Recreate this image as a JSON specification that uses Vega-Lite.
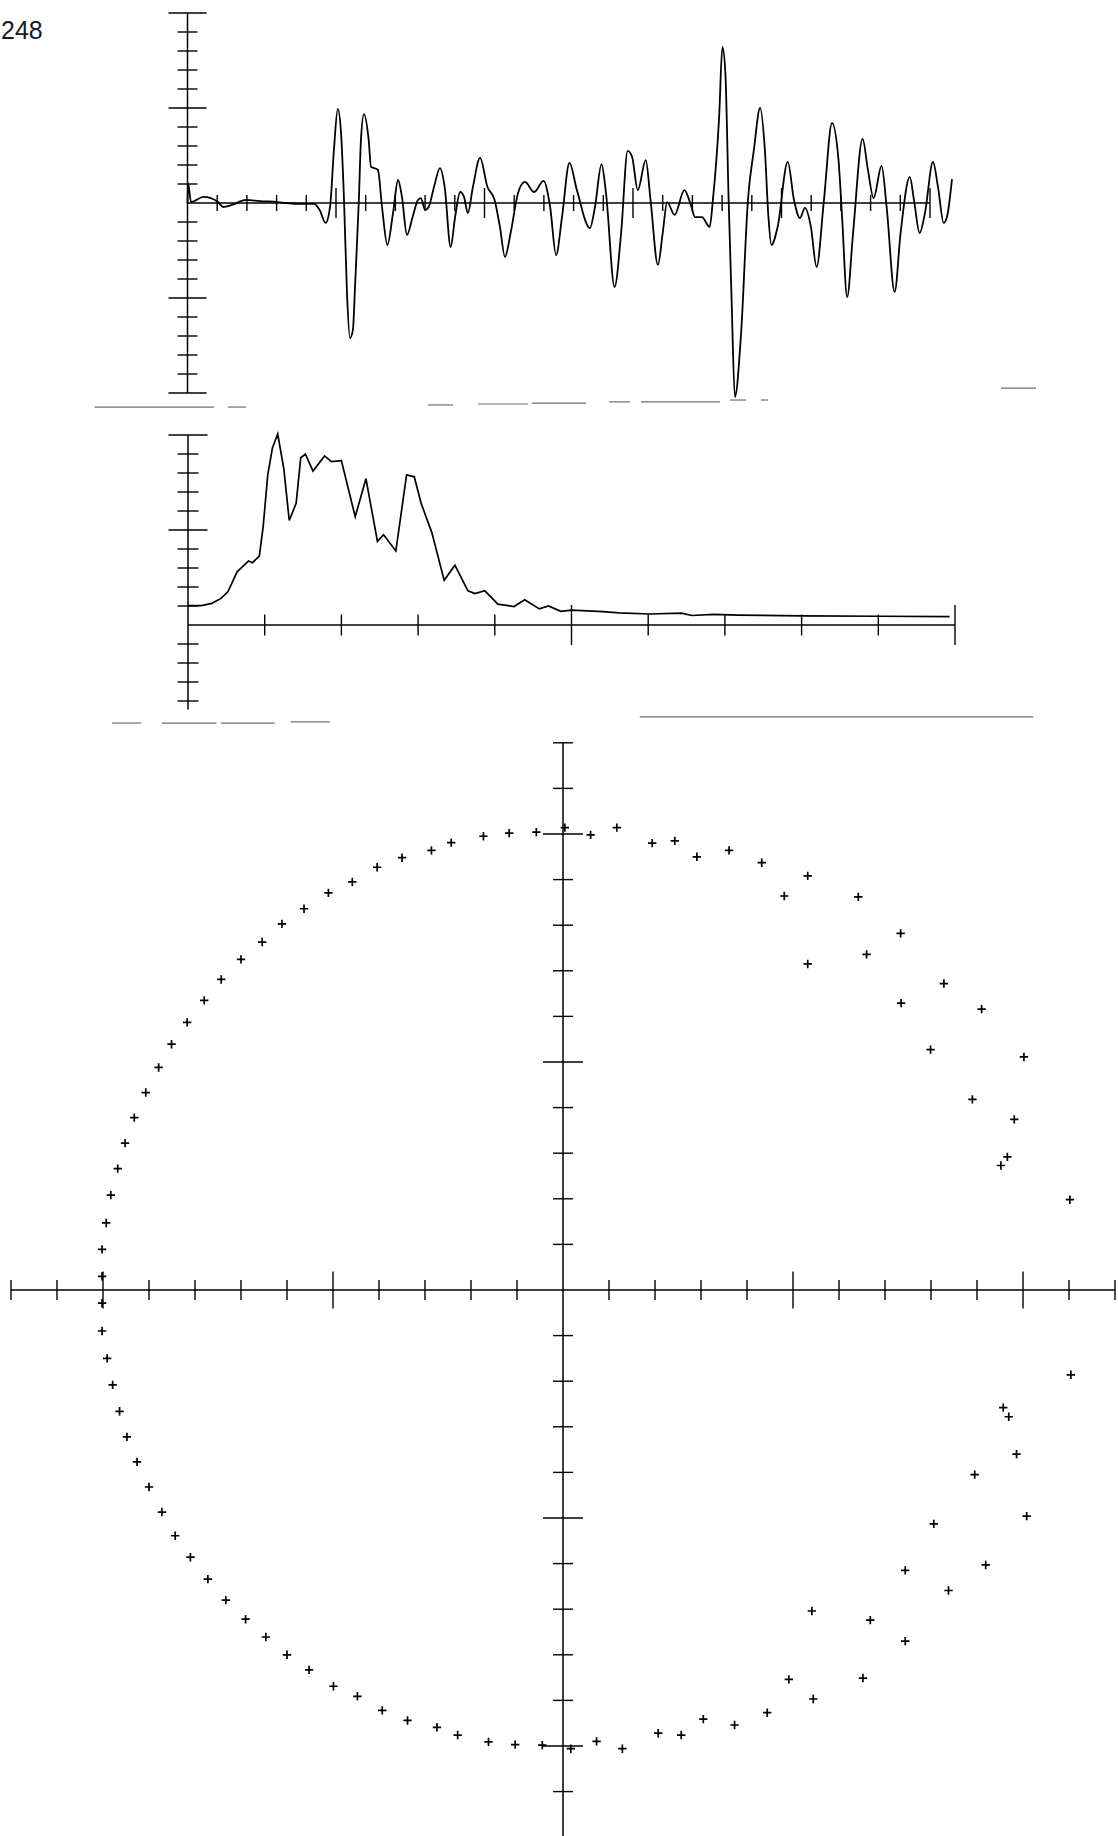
{
  "$schema": "https://vega.github.io/schema/vega-lite/v6.json",
  "background": "white",
  "padding": 0,
  "spacing": 0,
  "config": {"view": {"stroke": null}, "concat": {"spacing": 0}},
  "resolve": {"scale": {"x": "independent", "y": "independent"}},
  "datasets": {
    "topFrame": [
      {"x": 0, "x2": 0, "y": -10, "y2": 10},
      {"x": 0, "x2": 25, "y": 0, "y2": 0}
    ],
    "topYTicks": [
      {"v": -10}, {"v": -9}, {"v": -8}, {"v": -7}, {"v": -6}, {"v": -5}, {"v": -4}, {"v": -3}, {"v": -2}, {"v": -1},
      {"v": 1}, {"v": 2}, {"v": 3}, {"v": 4}, {"v": 5}, {"v": 6}, {"v": 7}, {"v": 8}, {"v": 9}, {"v": 10}
    ],
    "topXTicks": [
      {"v": 1}, {"v": 2}, {"v": 3}, {"v": 4}, {"v": 5}, {"v": 6}, {"v": 7}, {"v": 8}, {"v": 9}, {"v": 10},
      {"v": 11}, {"v": 12}, {"v": 13}, {"v": 14}, {"v": 15}, {"v": 16}, {"v": 17}, {"v": 18}, {"v": 19}, {"v": 20},
      {"v": 21}, {"v": 22}, {"v": 23}, {"v": 24}, {"v": 25}
    ],
    "topSeams": [
      {"x": -3.13, "x2": 0.89, "y": -10.74},
      {"x": 1.36, "x2": 1.97, "y": -10.74},
      {"x": 8.1, "x2": 8.94, "y": -10.63},
      {"x": 9.78, "x2": 11.46, "y": -10.58},
      {"x": 11.6, "x2": 13.42, "y": -10.53},
      {"x": 14.19, "x2": 14.9, "y": -10.47},
      {"x": 15.27, "x2": 17.93, "y": -10.47},
      {"x": 18.27, "x2": 18.81, "y": -10.37},
      {"x": 19.31, "x2": 19.55, "y": -10.37},
      {"x": 27.39, "x2": 28.57, "y": -9.74}
    ],
    "wave": [
      {"t": 0.0, "a": 0.0}, {"t": 0.02, "a": 1.05}, {"t": 0.12, "a": 0.05}, {"t": 0.54, "a": 0.32}, {"t": 1.03, "a": 0.05},
      {"t": 1.2, "a": -0.21}, {"t": 1.5, "a": -0.1}, {"t": 1.97, "a": 0.16}, {"t": 2.44, "a": 0.1}, {"t": 3.05, "a": 0.05},
      {"t": 3.32, "a": 0.0}, {"t": 3.89, "a": -0.05}, {"t": 4.26, "a": -0.05}, {"t": 4.45, "a": -0.37}, {"t": 4.65, "a": -1.05},
      {"t": 4.8, "a": -0.21}, {"t": 4.93, "a": 2.79}, {"t": 5.06, "a": 4.95}, {"t": 5.17, "a": 3.68}, {"t": 5.27, "a": 0.16},
      {"t": 5.37, "a": -4.74}, {"t": 5.47, "a": -7.11}, {"t": 5.57, "a": -6.68}, {"t": 5.64, "a": -4.42}, {"t": 5.77, "a": 0.16},
      {"t": 5.84, "a": 3.32}, {"t": 5.94, "a": 4.68}, {"t": 6.1, "a": 3.32}, {"t": 6.18, "a": 1.89}, {"t": 6.28, "a": 1.84},
      {"t": 6.41, "a": 1.74}, {"t": 6.55, "a": -0.21}, {"t": 6.73, "a": -2.21}, {"t": 6.92, "a": -0.53}, {"t": 7.09, "a": 1.21},
      {"t": 7.22, "a": 0.32}, {"t": 7.39, "a": -1.68}, {"t": 7.58, "a": -0.74}, {"t": 7.76, "a": 0.16}, {"t": 7.86, "a": 0.26},
      {"t": 8.0, "a": -0.37}, {"t": 8.12, "a": -0.21}, {"t": 8.3, "a": 0.84}, {"t": 8.5, "a": 1.84}, {"t": 8.66, "a": 0.84},
      {"t": 8.86, "a": -2.32}, {"t": 9.01, "a": -0.74}, {"t": 9.18, "a": 0.58}, {"t": 9.31, "a": 0.32}, {"t": 9.44, "a": -0.53},
      {"t": 9.61, "a": 0.84}, {"t": 9.85, "a": 2.37}, {"t": 10.1, "a": 0.84}, {"t": 10.34, "a": 0.16}, {"t": 10.52, "a": -1.26},
      {"t": 10.69, "a": -2.84}, {"t": 10.88, "a": -1.58}, {"t": 11.13, "a": 0.53}, {"t": 11.36, "a": 1.11}, {"t": 11.67, "a": 0.58},
      {"t": 11.99, "a": 1.16}, {"t": 12.21, "a": -0.21}, {"t": 12.41, "a": -2.74}, {"t": 12.61, "a": -0.74}, {"t": 12.86, "a": 2.11},
      {"t": 13.11, "a": 0.68}, {"t": 13.55, "a": -1.32}, {"t": 13.72, "a": -0.21}, {"t": 13.94, "a": 2.05}, {"t": 14.09, "a": 0.53},
      {"t": 14.38, "a": -4.42}, {"t": 14.6, "a": -1.58}, {"t": 14.82, "a": 2.74}, {"t": 14.97, "a": 2.42}, {"t": 15.16, "a": 0.68},
      {"t": 15.43, "a": 2.26}, {"t": 15.59, "a": 0.16}, {"t": 15.84, "a": -3.26}, {"t": 16.0, "a": -1.58}, {"t": 16.15, "a": 0.05},
      {"t": 16.4, "a": -0.63}, {"t": 16.73, "a": 0.68}, {"t": 16.95, "a": -0.11}, {"t": 17.09, "a": -0.74}, {"t": 17.32, "a": -0.74},
      {"t": 17.58, "a": -1.26}, {"t": 17.69, "a": 0.16}, {"t": 17.9, "a": 4.53}, {"t": 18.01, "a": 8.21}, {"t": 18.11, "a": 6.84},
      {"t": 18.22, "a": 0.16}, {"t": 18.32, "a": -5.11}, {"t": 18.43, "a": -10.21}, {"t": 18.64, "a": -6.84}, {"t": 18.87, "a": 0.16},
      {"t": 19.07, "a": 2.79}, {"t": 19.28, "a": 5.0}, {"t": 19.44, "a": 2.79}, {"t": 19.56, "a": -0.74}, {"t": 19.66, "a": -2.21},
      {"t": 19.87, "a": -1.26}, {"t": 20.21, "a": 2.16}, {"t": 20.42, "a": 0.16}, {"t": 20.62, "a": -0.79}, {"t": 20.79, "a": -0.26},
      {"t": 20.99, "a": -1.26}, {"t": 21.18, "a": -3.37}, {"t": 21.43, "a": 0.16}, {"t": 21.7, "a": 4.21}, {"t": 21.92, "a": 2.26},
      {"t": 22.04, "a": -0.74}, {"t": 22.21, "a": -4.95}, {"t": 22.41, "a": -1.58}, {"t": 22.73, "a": 3.37}, {"t": 22.91, "a": 1.74},
      {"t": 23.1, "a": 0.26}, {"t": 23.37, "a": 1.95}, {"t": 23.54, "a": -0.21}, {"t": 23.81, "a": -4.68}, {"t": 24.01, "a": -1.58},
      {"t": 24.32, "a": 1.37}, {"t": 24.46, "a": 0.16}, {"t": 24.65, "a": -1.58}, {"t": 24.83, "a": -0.53}, {"t": 25.1, "a": 2.16},
      {"t": 25.27, "a": 0.84}, {"t": 25.46, "a": -1.05}, {"t": 25.57, "a": -0.74}, {"t": 25.74, "a": 1.26}
    ],
    "midFrame": [
      {"x": 0, "x2": 0, "y": -4.45, "y2": 10},
      {"x": 0, "x2": 10, "y": 0, "y2": 0}
    ],
    "midYTicks": [
      {"v": -4}, {"v": -3}, {"v": -2}, {"v": -1}, {"v": 1}, {"v": 2}, {"v": 3}, {"v": 4}, {"v": 5},
      {"v": 6}, {"v": 7}, {"v": 8}, {"v": 9}, {"v": 10}
    ],
    "midXTicks": [
      {"v": 1}, {"v": 2}, {"v": 3}, {"v": 4}, {"v": 5}, {"v": 6}, {"v": 7}, {"v": 8}, {"v": 9}, {"v": 10}
    ],
    "midSeams": [
      {"x": -0.99, "x2": -0.61, "y": -5.16},
      {"x": -0.34, "x2": 0.37, "y": -5.16},
      {"x": 0.43, "x2": 1.13, "y": -5.16},
      {"x": 1.34, "x2": 1.85, "y": -5.1},
      {"x": 5.89, "x2": 11.02, "y": -4.84}
    ],
    "spectrum": [
      {"f": 0.0, "p": 1.02}, {"f": 0.175, "p": 1.02}, {"f": 0.31, "p": 1.14}, {"f": 0.43, "p": 1.4}, {"f": 0.52, "p": 1.75},
      {"f": 0.64, "p": 2.8}, {"f": 0.79, "p": 3.37}, {"f": 0.84, "p": 3.28}, {"f": 0.93, "p": 3.63}, {"f": 0.98, "p": 5.18},
      {"f": 1.04, "p": 7.9}, {"f": 1.1, "p": 9.3}, {"f": 1.17, "p": 10.05}, {"f": 1.25, "p": 8.2}, {"f": 1.32, "p": 5.5},
      {"f": 1.41, "p": 6.4}, {"f": 1.47, "p": 8.8}, {"f": 1.53, "p": 9.0}, {"f": 1.63, "p": 8.1}, {"f": 1.78, "p": 8.9},
      {"f": 1.87, "p": 8.6}, {"f": 2.0, "p": 8.65}, {"f": 2.18, "p": 5.7}, {"f": 2.32, "p": 7.7}, {"f": 2.47, "p": 4.4},
      {"f": 2.55, "p": 4.75}, {"f": 2.71, "p": 3.9}, {"f": 2.85, "p": 7.9}, {"f": 2.95, "p": 7.8}, {"f": 3.04, "p": 6.4},
      {"f": 3.18, "p": 4.85}, {"f": 3.34, "p": 2.35}, {"f": 3.48, "p": 3.15}, {"f": 3.65, "p": 1.8}, {"f": 3.74, "p": 1.65},
      {"f": 3.87, "p": 1.8}, {"f": 4.04, "p": 1.1}, {"f": 4.25, "p": 0.97}, {"f": 4.39, "p": 1.33}, {"f": 4.58, "p": 0.85},
      {"f": 4.7, "p": 1.0}, {"f": 4.86, "p": 0.72}, {"f": 5.0, "p": 0.78}, {"f": 5.41, "p": 0.7}, {"f": 5.62, "p": 0.64},
      {"f": 6.02, "p": 0.58}, {"f": 6.43, "p": 0.62}, {"f": 6.57, "p": 0.5}, {"f": 6.85, "p": 0.56}, {"f": 7.17, "p": 0.52},
      {"f": 8.0, "p": 0.48}, {"f": 9.02, "p": 0.46}, {"f": 9.93, "p": 0.44}
    ],
    "polarFrame": [
      {"x": 0, "x2": 0, "y": -12, "y2": 12},
      {"x": -12, "x2": 12, "y": 0, "y2": 0}
    ],
    "polarTicks": [
      {"v": -12}, {"v": -11}, {"v": -10}, {"v": -9}, {"v": -8}, {"v": -7}, {"v": -6}, {"v": -5}, {"v": -4}, {"v": -3}, {"v": -2}, {"v": -1},
      {"v": 1}, {"v": 2}, {"v": 3}, {"v": 4}, {"v": 5}, {"v": 6}, {"v": 7}, {"v": 8}, {"v": 9}, {"v": 10}, {"v": 11}, {"v": 12}
    ],
    "polar": [
      {"re": -10.02, "im": 0.3}, {"re": -10.02, "im": 0.89}, {"re": -9.93, "im": 1.47}, {"re": -9.83, "im": 2.08}, {"re": -9.68, "im": 2.66},
      {"re": -9.52, "im": 3.22}, {"re": -9.32, "im": 3.78}, {"re": -9.07, "im": 4.33}, {"re": -8.79, "im": 4.88}, {"re": -8.51, "im": 5.39},
      {"re": -8.17, "im": 5.87}, {"re": -7.8, "im": 6.35}, {"re": -7.43, "im": 6.81}, {"re": -7.0, "im": 7.25}, {"re": -6.54, "im": 7.63},
      {"re": -6.11, "im": 8.03}, {"re": -5.63, "im": 8.36}, {"re": -5.1, "im": 8.71}, {"re": -4.58, "im": 8.95}, {"re": -4.04, "im": 9.27},
      {"re": -3.5, "im": 9.48}, {"re": -2.86, "im": 9.64}, {"re": -2.43, "im": 9.81}, {"re": -1.73, "im": 9.95}, {"re": -1.17, "im": 10.02},
      {"re": -0.58, "im": 10.04}, {"re": 0.04, "im": 10.14}, {"re": 0.6, "im": 9.98}, {"re": 1.17, "im": 10.14}, {"re": 1.94, "im": 9.8},
      {"re": 2.43, "im": 9.85}, {"re": 2.91, "im": 9.5}, {"re": 3.61, "im": 9.64}, {"re": 4.32, "im": 9.37}, {"re": 4.81, "im": 8.64},
      {"re": 5.32, "im": 9.08}, {"re": 6.42, "im": 8.62}, {"re": 5.32, "im": 7.15}, {"re": 6.6, "im": 7.36}, {"re": 7.34, "im": 7.82},
      {"re": 7.35, "im": 6.29}, {"re": 8.28, "im": 6.72}, {"re": 9.1, "im": 6.16}, {"re": 7.99, "im": 5.27}, {"re": 10.02, "im": 5.11},
      {"re": 8.9, "im": 4.18}, {"re": 9.81, "im": 3.74}, {"re": 9.66, "im": 2.92}, {"re": 9.52, "im": 2.73}, {"re": 11.02, "im": 1.98},
      {"re": -10.02, "im": -0.29}, {"re": -10.02, "im": -0.9}, {"re": -9.91, "im": -1.5}, {"re": -9.79, "im": -2.08}, {"re": -9.64, "im": -2.66},
      {"re": -9.48, "im": -3.22}, {"re": -9.26, "im": -3.77}, {"re": -9.0, "im": -4.32}, {"re": -8.72, "im": -4.87}, {"re": -8.43, "im": -5.39},
      {"re": -8.1, "im": -5.86}, {"re": -7.72, "im": -6.34}, {"re": -7.33, "im": -6.8}, {"re": -6.9, "im": -7.22}, {"re": -6.46, "im": -7.61},
      {"re": -6.0, "im": -8.0}, {"re": -5.52, "im": -8.33}, {"re": -4.99, "im": -8.69}, {"re": -4.47, "im": -8.91}, {"re": -3.93, "im": -9.22},
      {"re": -3.38, "im": -9.44}, {"re": -2.74, "im": -9.59}, {"re": -2.29, "im": -9.76}, {"re": -1.62, "im": -9.91}, {"re": -1.04, "im": -9.97},
      {"re": -0.45, "im": -9.98}, {"re": 0.17, "im": -10.06}, {"re": 0.73, "im": -9.9}, {"re": 1.29, "im": -10.06}, {"re": 2.07, "im": -9.72},
      {"re": 2.57, "im": -9.76}, {"re": 3.05, "im": -9.41}, {"re": 3.73, "im": -9.54}, {"re": 4.44, "im": -9.27}, {"re": 4.91, "im": -8.54},
      {"re": 5.44, "im": -8.97}, {"re": 5.41, "im": -7.04}, {"re": 6.52, "im": -8.51}, {"re": 6.68, "im": -7.24}, {"re": 7.44, "im": -7.7},
      {"re": 7.44, "im": -6.15}, {"re": 8.38, "im": -6.59}, {"re": 8.06, "im": -5.13}, {"re": 9.19, "im": -6.03}, {"re": 8.95, "im": -4.05},
      {"re": 10.08, "im": -4.96}, {"re": 9.86, "im": -3.6}, {"re": 9.57, "im": -2.58}, {"re": 9.69, "im": -2.78}, {"re": 11.04, "im": -1.86}
    ]
  },
  "vconcat": [
    {
      "width": 1118,
      "height": 410,
      "layer": [
        {
          "data": {"name": "topSeams"},
          "mark": {"type": "rule", "color": "#6e6e6e", "strokeWidth": 1.2},
          "encoding": {
            "x": {"field": "x", "type": "quantitative", "axis": null, "scale": {"domain": [-6.313, 31.33], "nice": false, "zero": false}},
            "x2": {"field": "x2"},
            "y": {"field": "y", "type": "quantitative", "axis": null, "scale": {"domain": [-10.895, 10.684], "nice": false, "zero": false}}
          }
        },
        {
          "data": {"name": "topFrame"},
          "mark": {"type": "rule", "color": "black", "strokeWidth": 1.5},
          "encoding": {
            "x": {"field": "x", "type": "quantitative", "axis": null},
            "x2": {"field": "x2"},
            "y": {"field": "y", "type": "quantitative", "axis": null},
            "y2": {"field": "y2"}
          }
        },
        {
          "data": {"name": "topYTicks"},
          "transform": [{"filter": "datum.v % 5 != 0"}],
          "mark": {"type": "tick", "orient": "horizontal", "size": 20, "thickness": 1.4, "color": "black", "opacity": 1},
          "encoding": {
            "x": {"datum": 0, "type": "quantitative", "axis": null},
            "y": {"field": "v", "type": "quantitative", "axis": null}
          }
        },
        {
          "data": {"name": "topYTicks"},
          "transform": [{"filter": "datum.v % 5 == 0"}],
          "mark": {"type": "tick", "orient": "horizontal", "size": 38, "thickness": 1.4, "color": "black", "opacity": 1},
          "encoding": {
            "x": {"datum": 0, "type": "quantitative", "axis": null},
            "y": {"field": "v", "type": "quantitative", "axis": null}
          }
        },
        {
          "data": {"name": "topXTicks"},
          "transform": [{"filter": "datum.v % 5 != 0"}],
          "mark": {"type": "tick", "orient": "vertical", "size": 16, "thickness": 1.4, "color": "black", "opacity": 1},
          "encoding": {
            "x": {"field": "v", "type": "quantitative", "axis": null},
            "y": {"datum": 0, "type": "quantitative", "axis": null}
          }
        },
        {
          "data": {"name": "topXTicks"},
          "transform": [{"filter": "datum.v % 5 == 0"}],
          "mark": {"type": "tick", "orient": "vertical", "size": 30, "thickness": 1.4, "color": "black", "opacity": 1},
          "encoding": {
            "x": {"field": "v", "type": "quantitative", "axis": null},
            "y": {"datum": 0, "type": "quantitative", "axis": null}
          }
        },
        {
          "data": {"name": "wave"},
          "mark": {"type": "line", "color": "black", "strokeWidth": 1.8, "interpolate": "monotone"},
          "encoding": {
            "x": {"field": "t", "type": "quantitative", "axis": null},
            "y": {"field": "a", "type": "quantitative", "axis": null}
          }
        },
        {
          "data": {"values": [{"label": "248", "t": -6.28, "a": 8.63}]},
          "mark": {"type": "text", "align": "left", "baseline": "alphabetic", "fontSize": 25, "font": "Liberation Sans", "color": "#1a1a1a"},
          "encoding": {
            "x": {"field": "t", "type": "quantitative", "axis": null},
            "y": {"field": "a", "type": "quantitative", "axis": null},
            "text": {"field": "label"}
          }
        }
      ]
    },
    {
      "width": 1118,
      "height": 315,
      "layer": [
        {
          "data": {"name": "midSeams"},
          "mark": {"type": "rule", "color": "#6e6e6e", "strokeWidth": 1.2},
          "encoding": {
            "x": {"field": "x", "type": "quantitative", "axis": null, "scale": {"domain": [-2.451, 12.125], "nice": false, "zero": false}},
            "x2": {"field": "x2"},
            "y": {"field": "y", "type": "quantitative", "axis": null, "scale": {"domain": [-5.263, 11.316], "nice": false, "zero": false}}
          }
        },
        {
          "data": {"name": "midFrame"},
          "mark": {"type": "rule", "color": "black", "strokeWidth": 1.5},
          "encoding": {
            "x": {"field": "x", "type": "quantitative", "axis": null},
            "x2": {"field": "x2"},
            "y": {"field": "y", "type": "quantitative", "axis": null},
            "y2": {"field": "y2"}
          }
        },
        {
          "data": {"name": "midYTicks"},
          "transform": [{"filter": "datum.v % 5 != 0"}],
          "mark": {"type": "tick", "orient": "horizontal", "size": 21, "thickness": 1.4, "color": "black", "opacity": 1},
          "encoding": {
            "x": {"datum": 0, "type": "quantitative", "axis": null},
            "y": {"field": "v", "type": "quantitative", "axis": null}
          }
        },
        {
          "data": {"name": "midYTicks"},
          "transform": [{"filter": "datum.v % 5 == 0"}],
          "mark": {"type": "tick", "orient": "horizontal", "size": 39, "thickness": 1.4, "color": "black", "opacity": 1},
          "encoding": {
            "x": {"datum": 0, "type": "quantitative", "axis": null},
            "y": {"field": "v", "type": "quantitative", "axis": null}
          }
        },
        {
          "data": {"name": "midXTicks"},
          "transform": [{"filter": "datum.v % 5 != 0"}],
          "mark": {"type": "tick", "orient": "vertical", "size": 21, "thickness": 1.4, "color": "black", "opacity": 1},
          "encoding": {
            "x": {"field": "v", "type": "quantitative", "axis": null},
            "y": {"datum": 0, "type": "quantitative", "axis": null}
          }
        },
        {
          "data": {"name": "midXTicks"},
          "transform": [{"filter": "datum.v % 5 == 0"}],
          "mark": {"type": "tick", "orient": "vertical", "size": 40, "thickness": 1.4, "color": "black", "opacity": 1},
          "encoding": {
            "x": {"field": "v", "type": "quantitative", "axis": null},
            "y": {"datum": 0, "type": "quantitative", "axis": null}
          }
        },
        {
          "data": {"name": "spectrum"},
          "mark": {"type": "line", "color": "black", "strokeWidth": 1.7},
          "encoding": {
            "x": {"field": "f", "type": "quantitative", "axis": null},
            "y": {"field": "p", "type": "quantitative", "axis": null}
          }
        }
      ]
    },
    {
      "width": 1118,
      "height": 1111,
      "layer": [
        {
          "data": {"name": "polarFrame"},
          "mark": {"type": "rule", "color": "black", "strokeWidth": 1.5},
          "encoding": {
            "x": {"field": "x", "type": "quantitative", "axis": null, "scale": {"domain": [-12.239, 12.065], "nice": false, "zero": false}},
            "x2": {"field": "x2"},
            "y": {"field": "y", "type": "quantitative", "axis": null, "scale": {"domain": [-11.974, 12.39], "nice": false, "zero": false}},
            "y2": {"field": "y2"}
          }
        },
        {
          "data": {"name": "polarTicks"},
          "transform": [{"filter": "datum.v % 5 != 0"}],
          "mark": {"type": "tick", "orient": "vertical", "size": 20, "thickness": 1.4, "color": "black", "opacity": 1, "clip": true},
          "encoding": {
            "x": {"field": "v", "type": "quantitative", "axis": null},
            "y": {"datum": 0, "type": "quantitative", "axis": null}
          }
        },
        {
          "data": {"name": "polarTicks"},
          "transform": [{"filter": "datum.v % 5 == 0"}],
          "mark": {"type": "tick", "orient": "vertical", "size": 37, "thickness": 1.4, "color": "black", "opacity": 1},
          "encoding": {
            "x": {"field": "v", "type": "quantitative", "axis": null},
            "y": {"datum": 0, "type": "quantitative", "axis": null}
          }
        },
        {
          "data": {"name": "polarTicks"},
          "transform": [{"filter": "datum.v % 5 != 0"}],
          "mark": {"type": "tick", "orient": "horizontal", "size": 20, "thickness": 1.4, "color": "black", "opacity": 1, "clip": true},
          "encoding": {
            "x": {"datum": 0, "type": "quantitative", "axis": null},
            "y": {"field": "v", "type": "quantitative", "axis": null}
          }
        },
        {
          "data": {"name": "polarTicks"},
          "transform": [{"filter": "datum.v % 5 == 0"}],
          "mark": {"type": "tick", "orient": "horizontal", "size": 40, "thickness": 1.4, "color": "black", "opacity": 1},
          "encoding": {
            "x": {"datum": 0, "type": "quantitative", "axis": null},
            "y": {"field": "v", "type": "quantitative", "axis": null}
          }
        },
        {
          "data": {"name": "polar"},
          "mark": {"type": "point", "shape": "M-1,0L1,0M0,-1L0,1", "size": 70, "filled": false, "strokeWidth": 1.7, "color": "black", "opacity": 1},
          "encoding": {
            "x": {"field": "re", "type": "quantitative", "axis": null},
            "y": {"field": "im", "type": "quantitative", "axis": null}
          }
        }
      ]
    }
  ]
}
